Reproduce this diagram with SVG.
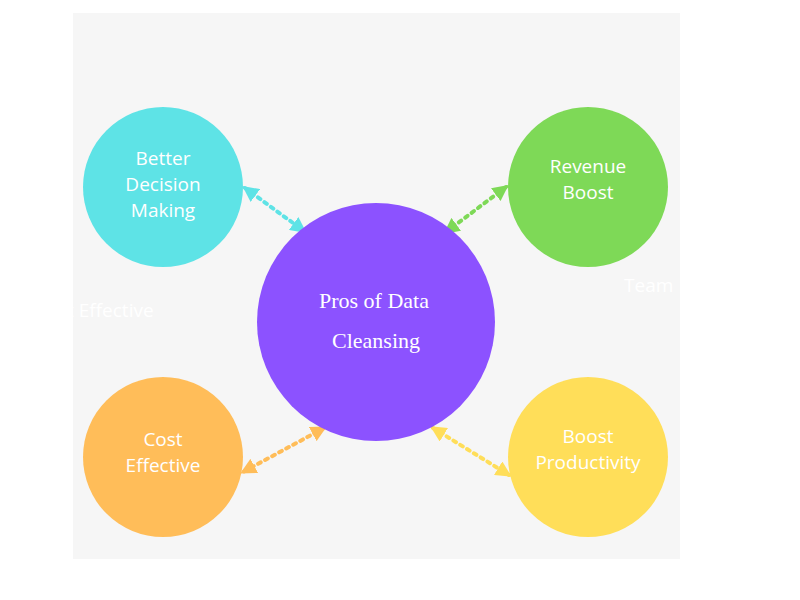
<svg xmlns="http://www.w3.org/2000/svg" width="800" height="600" viewBox="0 0 800 600">
<defs>
<style>
.lbl{font-family:"Open Sans","Liberation Sans",sans-serif;font-size:19px;fill:#fff;text-anchor:middle}
.ghost{font-family:"Open Sans","Liberation Sans",sans-serif;font-size:19px;fill:#fff}
.con{stroke-width:4;stroke-dasharray:3 5;stroke-linecap:round;fill:none}
</style>
<marker id="mc" viewBox="0 0 10 10" refX="8" refY="5" markerWidth="4" markerHeight="4" orient="auto-start-reverse"><path d="M0,0L10,5L0,10z" fill="#5ee3e6"/></marker>
<marker id="mg" viewBox="0 0 10 10" refX="8" refY="5" markerWidth="4" markerHeight="4" orient="auto-start-reverse"><path d="M0,0L10,5L0,10z" fill="#7ed957"/></marker>
<marker id="mo" viewBox="0 0 10 10" refX="8" refY="5" markerWidth="4" markerHeight="4" orient="auto-start-reverse"><path d="M0,0L10,5L0,10z" fill="#ffbd59"/></marker>
<marker id="my" viewBox="0 0 10 10" refX="8" refY="5" markerWidth="4" markerHeight="4" orient="auto-start-reverse"><path d="M0,0L10,5L0,10z" fill="#ffde59"/></marker>
</defs>
<rect width="800" height="600" fill="#fff"/>
<rect x="73" y="13" width="607" height="546" fill="#f6f6f6"/>
<text class="ghost" x="58" y="317">st Effective</text>
<text class="ghost" x="624" y="292">Team</text>
<rect x="0" y="0" width="73" height="600" fill="#fff"/>
<rect x="680" y="0" width="120" height="600" fill="#fff"/>
<g id="connectors">
<line class="con" stroke="#5ee3e6" x1="245" y1="188" x2="304" y2="231" marker-start="url(#mc)" marker-end="url(#mc)"/>
<line class="con" stroke="#7ed957" x1="506" y1="187" x2="446" y2="232" marker-start="url(#mg)" marker-end="url(#mg)"/>
<line class="con" stroke="#ffbd59" x1="324" y1="428" x2="243" y2="472" marker-start="url(#mo)" marker-end="url(#mo)"/>
<line class="con" stroke="#ffde59" x1="433" y1="428" x2="509" y2="475" marker-start="url(#my)" marker-end="url(#my)"/>
</g>
<g id="center"><circle cx="376" cy="322" r="119" fill="#8c52ff"/>
<text x="374" y="308" font-family="'Liberation Serif',serif" font-size="22" fill="#fff" text-anchor="middle">Pros of Data</text>
<text x="376" y="348" font-family="'Liberation Serif',serif" font-size="22" fill="#fff" text-anchor="middle">Cleansing</text></g>
<g id="decision"><circle cx="163" cy="187" r="80" fill="#5ee3e6"/>
<text class="lbl" x="163" y="165">Better</text><text class="lbl" x="163" y="191">Decision</text><text class="lbl" x="163" y="217">Making</text></g>
<g id="revenue"><circle cx="588" cy="187" r="80" fill="#7ed957"/>
<text class="lbl" x="588" y="173">Revenue</text><text class="lbl" x="588" y="199">Boost</text></g>
<g id="cost"><circle cx="163" cy="457" r="80" fill="#ffbd59"/>
<text class="lbl" x="163" y="446">Cost</text><text class="lbl" x="163" y="472">Effective</text></g>
<g id="productivity"><circle cx="588" cy="457" r="80" fill="#ffde59"/>
<text class="lbl" x="588" y="443">Boost</text><text class="lbl" x="588" y="469">Productivity</text></g>
</svg>
